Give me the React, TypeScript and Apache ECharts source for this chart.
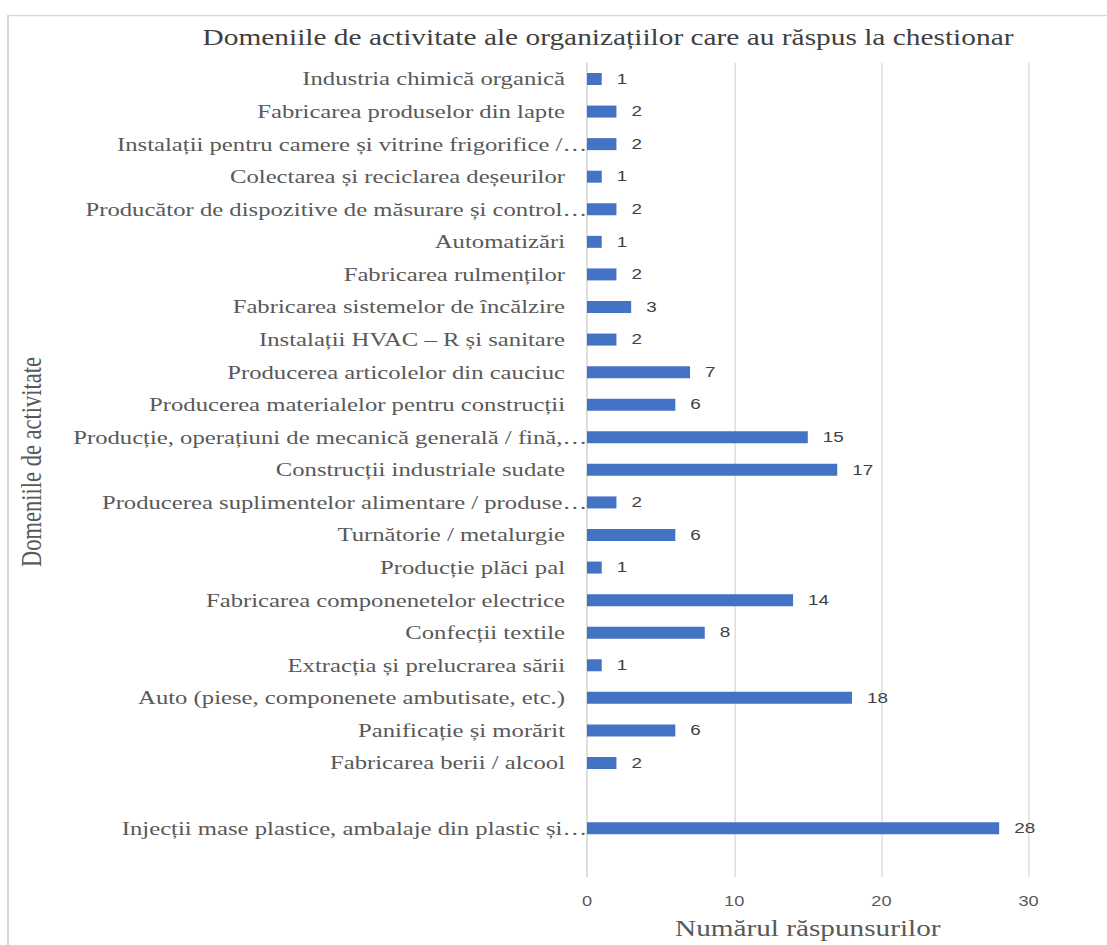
import React, { useEffect, useRef } from "react";
import * as echarts from "echarts";

// Activity domains, top to bottom; the two blank rows are empty spreadsheet rows.
const categories: string[] = [
  "Industria chimică organică",
  "Fabricarea produselor din lapte",
  "Instalații pentru camere și vitrine frigorifice /…",
  "Colectarea și reciclarea deșeurilor",
  "Producător de dispozitive de măsurare și control…",
  "Automatizări",
  "Fabricarea rulmenților",
  "Fabricarea sistemelor de încălzire",
  "Instalații HVAC – R și sanitare",
  "Producerea articolelor din cauciuc",
  "Producerea materialelor pentru construcții",
  "Producție, operațiuni de mecanică generală / fină,…",
  "Construcții industriale sudate",
  "Producerea suplimentelor alimentare / produse…",
  "Turnătorie / metalurgie",
  "Producție plăci pal",
  "Fabricarea componenetelor electrice",
  "Confecții textile",
  "Extracția și prelucrarea sării",
  "Auto (piese, componenete ambutisate, etc.)",
  "Panificație și morărit",
  "Fabricarea berii / alcool",
  "",
  "Injecții mase plastice, ambalaje din plastic și…",
  " ",
];

const responses: (number | null)[] = [
  1, 2, 2, 1, 2, 1, 2, 3, 2, 7, 6, 15, 17, 2, 6, 1, 14, 8, 1, 18, 6, 2, null, 28, null,
];

const xTicks = { min: 0, max: 30, interval: 10 };

const chartTitle = "Domeniile de activitate ale organizațiilor care au răspus la chestionar";
const yTitle = "Domeniile de activitate";
const xTitle = "Numărul răspunsurilor";

// Horizontal stretch applied to the whole drawing
const S = 1.3;
const PAGE_W = 1107;
const PAGE_H = 945;

const SERIF = "'Liberation Serif', 'Times New Roman', serif";
const SANS = "'Liberation Sans', Arial, sans-serif";
const GREY = "#595959";

export default function App() {
  const ref = useRef<HTMLDivElement>(null);

  useEffect(() => {
    if (!ref.current) return;
    const chart = echarts.init(ref.current, undefined, { renderer: "svg" });

    // truncated names run on up to the axis line
    const catData = categories.map((c) =>
      c.endsWith("…")
        ? { value: c, textStyle: { padding: [0, -17, 0, 0] } }
        : c
    );

    chart.setOption({
      animation: false,
      backgroundColor: "#ffffff",
      grid: {
        left: 587 / S,
        right: (PAGE_W - 1028) / S,
        top: 62.7,
        bottom: 58.5,
        containLabel: false,
      },
      xAxis: {
        type: "value",
        min: xTicks.min,
        max: xTicks.max,
        interval: xTicks.interval,
        axisLine: { show: false },
        axisTick: { show: false },
        splitLine: { lineStyle: { color: "#d9d9d9", width: 1 } },
        axisLabel: { color: GREY, fontFamily: SANS, fontSize: 14, margin: 17 },
        name: xTitle,
        nameLocation: "middle",
        nameGap: 40,
        nameTextStyle: { color: GREY, fontFamily: SERIF, fontSize: 22.5 },
      },
      yAxis: {
        type: "category",
        inverse: true,
        data: catData,
        axisLine: { show: true, lineStyle: { color: "#d9d9d9", width: 1 } },
        axisTick: { show: false },
        splitLine: { show: false },
        axisLabel: {
          color: GREY,
          fontFamily: SERIF,
          fontSize: 19,
          margin: 22 / S,
          interval: 0,
        },
      },
      graphic: [
        {
          type: "rect",
          silent: true,
          shape: { x: 8 / S, y: 15.5, width: 2000, height: 2000 },
          style: { fill: "none", stroke: "#d9d9d9", lineWidth: 1.5 },
        },
        {
          type: "text",
          x: 608 / S,
          y: 38,
          style: {
            text: chartTitle,
            align: "center",
            verticalAlign: "middle",
            fill: "#404040",
            font: `22.6px ${SERIF}`,
          },
        },
        {
          type: "text",
          x: 31 / S,
          y: 462,
          rotation: Math.PI / 2,
          style: {
            text: yTitle,
            align: "center",
            verticalAlign: "middle",
            fill: GREY,
            font: `22.5px ${SERIF}`,
          },
        },
      ],
      series: [
        {
          type: "bar",
          data: responses,
          barWidth: 12,
          itemStyle: { color: "#4472C4" },
          label: {
            show: true,
            position: "right",
            distance: 15 / S,
            color: "#404040",
            fontFamily: SANS,
            fontSize: 14.5,
          },
        },
      ],
    });

    return () => chart.dispose();
  }, []);

  return (
    <div
      style={{
        position: "fixed",
        left: 0,
        top: 0,
        width: PAGE_W,
        height: PAGE_H,
        overflow: "hidden",
        background: "#ffffff",
      }}
    >
      <div
        ref={ref}
        style={{
          width: PAGE_W / S,
          height: PAGE_H,
          transform: `scaleX(${S})`,
          transformOrigin: "0 0",
        }}
      />
    </div>
  );
}
